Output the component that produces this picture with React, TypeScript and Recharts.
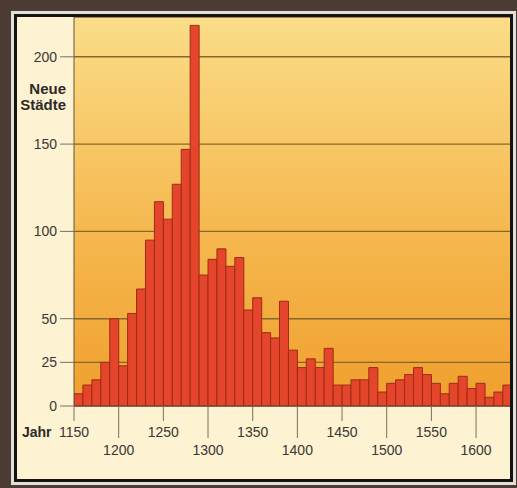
import { BarChart, Bar, XAxis, YAxis, CartesianGrid } from "recharts";

// decade bins (start year) and number of newly founded towns
const decades = [
  1150, 1160, 1170, 1180, 1190, 1200, 1210, 1220, 1230, 1240,
  1250, 1260, 1270, 1280, 1290, 1300, 1310, 1320, 1330, 1340,
  1350, 1360, 1370, 1380, 1390, 1400, 1410, 1420, 1430, 1440,
  1450, 1460, 1470, 1480, 1490, 1500, 1510, 1520, 1530, 1540,
  1550, 1560, 1570, 1580, 1590, 1600, 1610, 1620, 1630,
];
const newTowns = [
  7, 12, 15, 25, 50, 23, 53, 67, 95, 117,
  107, 127, 147, 218, 75, 84, 90, 80, 85, 55,
  62, 42, 39, 60, 32, 22, 27, 22, 33, 12,
  12, 15, 15, 22, 8, 13, 15, 18, 22, 18,
  13, 7, 13, 17, 10, 13, 5, 8, 12,
];
const yTicks = [0, 25, 50, 100, 150, 200];
const xTicks = [1150, 1200, 1250, 1300, 1350, 1400, 1450, 1500, 1550, 1600];

// bars sit in the middle of their decade
const data = decades.map((d, i) => ({ mid: d + 5, towns: newTowns[i] }));

const FONT = '"Liberation Sans", Arial, Helvetica, sans-serif';
const TEXT = "#3b3633";
const TICK = "#7b6f5e";

function YearTick(props: any) {
  const { x, y, payload } = props;
  const low = ((payload.value - 1150) / 50) % 2 === 1;
  return (
    <g>
      <line x1={x} x2={x} y1={y} y2={y + (low ? 32 : 15)} stroke={TICK} strokeWidth={1} />
      <text
        x={x}
        y={y + (low ? 49 : 31)}
        textAnchor="middle"
        fontSize={14}
        fontFamily={FONT}
        fill={TEXT}
      >
        {payload.value}
      </text>
    </g>
  );
}

const boldLabel = {
  position: "absolute" as const,
  fontFamily: FONT,
  fontWeight: "bold" as const,
  fontSize: 15,
  lineHeight: "17px",
  color: "#2e2a28",
};

export default function App() {
  return (
    <div style={{ position: "absolute", left: 0, top: 0, width: 517, height: 488, background: "#4c3c33" }}>
      <div
        style={{
          position: "absolute",
          left: 11,
          top: 11,
          width: 505,
          height: 474,
          boxSizing: "border-box",
          border: "3px solid #e2dedb",
        }}
      >
        <div
          style={{
            width: "100%",
            height: "100%",
            boxSizing: "border-box",
            border: "3px solid #151210",
            background: "#fdf2d2",
            position: "relative",
          }}
        >
          <BarChart
            width={493}
            height={462}
            data={data}
            margin={{ top: 0, right: 0, bottom: 0, left: 0 }}
            barCategoryGap={0}
            barGap={0}
          >
            <defs>
              <linearGradient id="plotBg" x1="0" y1="0" x2="0" y2="1">
                <stop offset="0%" stopColor="#fbdd88" />
                <stop offset="55%" stopColor="#f5b84f" />
                <stop offset="100%" stopColor="#f09f2d" />
              </linearGradient>
            </defs>
            <CartesianGrid
              vertical={false}
              fill="url(#plotBg)"
              fillOpacity={1}
              stroke="#87672a"
              strokeWidth={1.4}
            />
            <XAxis
              dataKey="mid"
              type="number"
              domain={[1150, 1638]}
              allowDataOverflow
              ticks={xTicks}
              interval={0}
              height={73}
              tickSize={0}
              tickMargin={0}
              tickLine={false}
              tick={<YearTick />}
              axisLine={{ stroke: "#5e4b36", strokeWidth: 1.2 }}
            />
            <YAxis
              type="number"
              domain={[0, 222.8]}
              allowDataOverflow
              ticks={yTicks}
              interval={0}
              width={57}
              tickSize={14}
              tickMargin={3}
              tickLine={{ stroke: TICK }}
              axisLine={{ stroke: "#6a5535", strokeWidth: 1 }}
              tick={{ fontSize: 14, fontFamily: FONT, fill: TEXT }}
            />
            <Bar
              dataKey="towns"
              fill="#e5452a"
              stroke="#9c2d16"
              strokeWidth={1}
              isAnimationActive={false}
            />
          </BarChart>
          <div style={{ ...boldLabel, right: 493 - 49, top: 63 }}>Neue</div>
          <div style={{ ...boldLabel, right: 493 - 49, top: 79 }}>Städte</div>
          <div style={{ ...boldLabel, fontSize: 14, lineHeight: "16px", left: 5, top: 407 }}>Jahr</div>
        </div>
      </div>
    </div>
  );
}
